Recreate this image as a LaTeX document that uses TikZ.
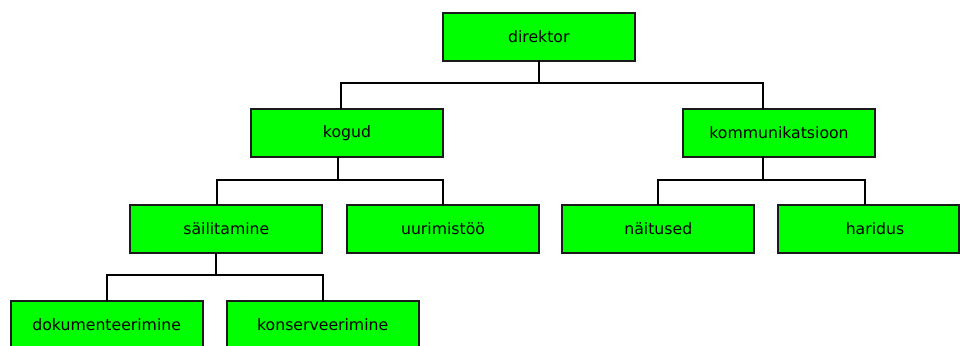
\documentclass[tikz,border=0pt]{standalone}
\usepackage{fontspec}
\setmainfont{DejaVu Sans}
\definecolor{boxgreen}{HTML}{00FF00}
\definecolor{boxline}{HTML}{1A1A1A}
\tikzset{
  orgbox/.style={draw=boxline, line width=1.8pt, fill=boxgreen, rectangle,
    minimum width=192pt, minimum height=48pt, inner sep=0pt,
    font=\fontsize{15.7}{19}\selectfont, text=black},
  conn/.style={draw=black, line width=1.8pt, line cap=rect, line join=miter}
}
\begin{document}
\begin{tikzpicture}[x=1pt,y=-1pt]
\useasboundingbox (0,0) rectangle (960,345);
\clip (0,0) rectangle (960,345);
\fill[white] (0,0) rectangle (960,345);
% levels
\node[orgbox] (dir) at (538.75,37) {direktor};
\node[orgbox] (kog) at (347,133) {kogud};
\node[orgbox] (kom) at (779,133) {kommunikatsioon};
\node[orgbox] (sai) at (226.3,229) {säilitamine};
\node[orgbox] (uur) at (443,229) {uurimistöö};
\node[orgbox] (nai) at (658.3,229) {näitused};
\node[orgbox, minimum width=181pt] (har) at (868.5,229) {\hspace*{13pt}haridus};
\node[orgbox] (dok) at (106.7,325) {dokumenteerimine};
\node[orgbox] (kon) at (322.7,325) {konserveerimine};
% bus levels
\coordinate (b1) at (0,83);
\coordinate (b2) at (0,180);
\coordinate (b3) at (0,275);
% connectors
\coordinate (kogup) at ([xshift=-6pt]kog.north);
\coordinate (komup) at ([xshift=-16pt]kom.north);
\draw[conn] (dir.south) -- (dir.south |- b1);
\draw[conn] (kogup) -- (kogup |- b1) -- (komup |- b1) -- (komup);

\coordinate (kogdn) at ([xshift=-9pt]kog.south);
\coordinate (saiup) at ([xshift=-9pt]sai.north);
\draw[conn] (kogdn) -- (kogdn |- b2);
\draw[conn] (saiup) -- (saiup |- b2) -- (uur.north |- b2) -- (uur.north);

\coordinate (komdn) at ([xshift=-16pt]kom.south);
\coordinate (harup) at ([xshift=-3.5pt]har.north);
\draw[conn] (komdn) -- (komdn |- b2);
\draw[conn] (nai.north) -- (nai.north |- b2) -- (harup |- b2) -- (harup);

\coordinate (saidn) at ([xshift=-10pt]sai.south);
\draw[conn] (saidn) -- (saidn |- b3);
\draw[conn] (dok.north) -- (dok.north |- b3) -- (kon.north |- b3) -- (kon.north);
\end{tikzpicture}
\end{document}
